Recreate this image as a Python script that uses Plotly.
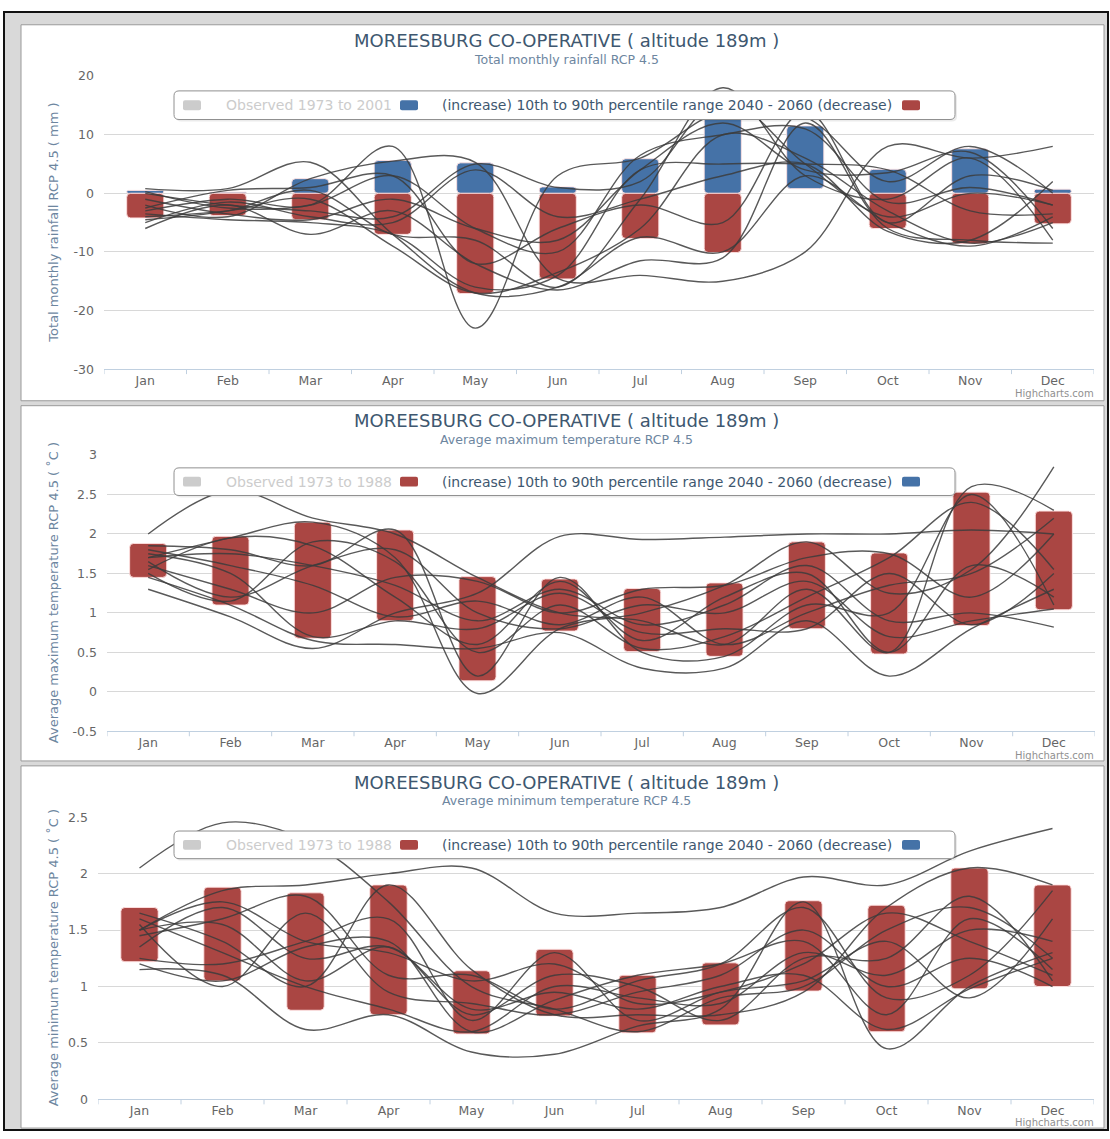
import plotly.graph_objects as go

# ---------------- data ----------------
months = ["Jan", "Feb", "Mar", "Apr", "May", "Jun", "Jul", "Aug", "Sep", "Oct", "Nov", "Dec"]

station_title = "MOREESBURG CO-OPERATIVE ( altitude 189m )"
rain_subtitle = "Total monthly rainfall RCP 4.5"
tmax_subtitle = "Average maximum temperature RCP 4.5"
tmin_subtitle = "Average minimum temperature RCP 4.5"
rain_axis_title = "Total monthly rainfall RCP 4.5 ( mm )"
tmax_axis_title = "Average maximum temperature RCP 4.5 ( ˚C )"
tmin_axis_title = "Average minimum temperature RCP 4.5 ( ˚C )"
rain_observed_label = "Observed 1973 to 2001"
temp_observed_label = "Observed 1973 to 1988"
range_label = "(increase) 10th to 90th percentile range 2040 - 2060 (decrease)"
credit_text = "Highcharts.com"

rain_ticks = [-30, -20, -10, 0, 10, 20]
rain_ticktext = ["-30", "-20", "-10", "0", "10", "20"]
tmax_ticks = [-0.5, 0, 0.5, 1, 1.5, 2, 2.5, 3]
tmax_ticktext = ["-0.5", "0", "0.5", "1", "1.5", "2", "2.5", "3"]
tmin_ticks = [0, 0.5, 1, 1.5, 2, 2.5]
tmin_ticktext = ["0", "0.5", "1", "1.5", "2", "2.5"]

# rainfall: increase (blue) and decrease (red) ranges
rain_inc_low = [0, 0, 0, 0, 0, 0, 0, 0, 0.8, 0, 0, 0]
rain_inc_high = [0.5, 0.2, 2.5, 5.6, 5.2, 1.1, 5.9, 14.5, 11.5, 4.1, 7.6, 0.7]
rain_dec_low = [-4.2, -3.8, -4.5, -7.0, -17.1, -14.6, -7.7, -10.1, None, -6.0, -8.6, -5.2]
rain_dec_high = [0, 0, 0, 0, 0, 0, 0, 0, None, 0, 0, 0]

# temperature ranges (all increases)
tmax_low = [1.45, 1.10, 0.68, 0.90, 0.14, 0.77, 0.51, 0.45, 0.80, 0.48, 0.84, 1.04]
tmax_high = [1.88, 1.97, 2.15, 2.05, 1.46, 1.43, 1.31, 1.38, 1.90, 1.76, 2.53, 2.29]
tmin_low = [1.22, 1.05, 0.79, 0.75, 0.58, 0.74, 0.59, 0.66, 0.96, 0.60, 0.98, 1.00]
tmin_high = [1.70, 1.88, 1.83, 1.90, 1.14, 1.33, 1.10, 1.21, 1.76, 1.72, 2.05, 1.90]

# individual model projections (change relative to observed)
rain_models = [
    [-6.0, -2.0, -7.0, -3.0, -12.0, -16.5, -11.5, -11.0, 12.0, -6.0, -8.0, -8.5],
    [0.8, 0.8, 5.3, -7.0, -17.0, -16.0, -7.5, -10.0, 3.0, -5.0, -9.0, -4.0],
    [-3.0, -1.0, -2.0, 8.0, -23.0, 3.0, 6.0, 14.0, 13.0, 2.0, 8.0, 0.0],
    [-2.0, -4.0, 2.5, 5.5, 5.3, -14.5, -14.0, -15.0, -10.0, 8.0, 6.0, 8.0],
    [-4.0, -3.0, -1.0, -9.0, -17.0, -13.5, -6.0, 10.0, 6.0, -3.0, -8.5, -5.0],
    [0.0, -2.0, -3.0, -4.0, 5.0, 1.0, 2.0, 16.0, 5.0, -4.0, 0.0, -2.0],
    [-1.0, -3.5, -4.5, -1.0, -6.0, -8.0, 4.0, 12.0, 4.0, 3.5, 7.0, -6.0],
    [-3.5, -4.5, -5.0, -7.0, -16.0, -14.0, 4.0, 5.0, 5.0, 4.0, -3.0, -3.5],
    [-2.5, 0.5, 1.0, 3.0, -12.0, -6.0, -2.0, -5.0, 14.0, -5.0, 3.0, 0.5],
    [-5.0, -1.5, -4.0, -5.0, 4.0, -4.0, -1.0, 3.0, 5.0, -6.5, -8.0, 2.0],
    [-4.5, -3.0, 0.5, -7.0, -8.0, -16.0, -1.0, 18.0, 3.0, -1.0, 6.0, -8.0],
    [0.3, -2.5, -2.0, 3.0, -6.0, -10.0, 6.5, 10.0, 11.0, -1.5, 1.0, -2.0],
]
tmax_models = [
    [2.0, 2.55, 2.2, 2.0, 1.45, 1.0, 0.9, 0.6, 1.3, 0.5, 2.6, 2.3],
    [1.3, 0.95, 0.55, 1.0, 1.25, 1.97, 1.93, 1.96, 2.0, 2.0, 2.05, 2.0],
    [1.7, 1.95, 2.15, 1.7, -0.02, 0.8, 1.0, 1.35, 1.9, 1.25, 1.55, 2.85],
    [1.45, 1.1, 0.65, 0.6, 0.55, 0.75, 0.3, 0.3, 0.9, 0.2, 0.8, 1.3],
    [1.85, 1.8, 1.6, 2.05, 0.2, 1.45, 0.5, 0.45, 1.1, 1.0, 2.5, 1.1],
    [1.6, 1.3, 1.0, 1.45, 1.4, 1.0, 1.3, 1.35, 1.7, 1.75, 1.2, 2.0],
    [1.75, 1.5, 0.7, 0.9, 0.8, 1.25, 0.75, 0.8, 0.8, 1.5, 0.85, 1.5],
    [1.65, 1.2, 1.6, 1.8, 1.0, 0.8, 1.1, 1.0, 1.4, 0.7, 0.9, 1.05],
    [1.55, 1.95, 1.85, 1.2, 0.6, 1.4, 0.65, 1.2, 1.5, 0.5, 1.6, 1.2],
    [1.8, 1.6, 1.35, 0.95, 1.15, 0.85, 1.2, 0.6, 1.0, 1.35, 1.5, 2.2],
    [1.5, 1.15, 1.9, 1.65, 0.5, 1.1, 0.55, 0.7, 1.2, 1.7, 2.4, 1.55],
    [1.7, 1.75, 1.6, 1.35, 0.9, 1.3, 0.85, 1.1, 1.6, 0.9, 1.0, 0.82],
]
tmin_models = [
    [2.05, 2.45, 2.3, 1.75, 1.0, 0.8, 0.6, 0.9, 1.0, 1.5, 1.7, 1.25],
    [1.5, 1.85, 1.9, 2.0, 2.05, 1.65, 1.65, 1.7, 1.97, 1.9, 2.2, 2.4],
    [1.15, 1.1, 0.62, 0.75, 0.42, 0.4, 0.65, 0.8, 1.75, 0.45, 1.0, 1.3],
    [1.65, 1.4, 1.0, 1.9, 1.15, 0.75, 0.75, 0.75, 0.95, 1.7, 2.05, 1.9],
    [1.2, 1.05, 1.35, 1.4, 0.6, 0.88, 1.1, 1.2, 1.4, 0.75, 1.6, 1.15],
    [1.5, 1.55, 1.05, 1.35, 0.75, 1.1, 1.0, 0.7, 1.25, 1.25, 1.8, 1.05],
    [1.35, 1.7, 1.25, 1.35, 0.8, 0.95, 0.8, 1.0, 1.1, 0.62, 0.98, 1.25],
    [1.55, 1.0, 1.65, 0.95, 0.85, 0.75, 0.95, 1.1, 1.5, 1.0, 1.25, 1.0],
    [1.25, 1.2, 1.4, 1.6, 0.7, 1.3, 0.7, 0.95, 1.05, 1.4, 0.9, 1.6],
    [1.6, 1.3, 1.0, 0.8, 0.6, 1.0, 0.9, 0.85, 1.3, 1.1, 1.5, 1.4],
    [1.45, 1.6, 1.8, 1.1, 1.1, 0.8, 1.05, 1.2, 1.7, 0.9, 1.1, 1.85],
    [1.5, 1.75, 1.4, 1.3, 1.05, 1.2, 0.85, 0.95, 1.2, 1.65, 1.4, 1.1],
]

# ---------------- styling / layout ----------------
W, H = 1110, 1139
FONT = "DejaVu Sans, Verdana, sans-serif"
BLUE = "#4572A7"
RED = "#AA4643"
LINE_COLOR = "rgba(60,60,60,0.85)"
TITLE_COLOR = "#3E576F"
SUB_COLOR = "#6D869F"


def PX(p):
    return p / W


def PY(p):
    return 1 - p / H


def rr_path(x0, y0, x1, y1, r):
    return (f"M {PX(x0 + r)},{PY(y0)} L {PX(x1 - r)},{PY(y0)} "
            f"Q {PX(x1)},{PY(y0)} {PX(x1)},{PY(y0 + r)} "
            f"L {PX(x1)},{PY(y1 - r)} Q {PX(x1)},{PY(y1)} {PX(x1 - r)},{PY(y1)} "
            f"L {PX(x0 + r)},{PY(y1)} Q {PX(x0)},{PY(y1)} {PX(x0)},{PY(y1 - r)} "
            f"L {PX(x0)},{PY(y0 + r)} Q {PX(x0)},{PY(y0)} {PX(x0 + r)},{PY(y0)} Z")


panels = [
    dict(box=(21, 17, 1104, 398), plot=(104, 1094, 69, 366), title_y=33, sub_y=52,
         legend=(174, 84, 955, 113), credit_y=391, ytitle_x=54,
         subtitle=rain_subtitle, ytitle=rain_axis_title, obs=rain_observed_label,
         sq2=BLUE, sq3=RED, yrange=[-30, 20], ticks=rain_ticks, ticktext=rain_ticktext,
         models=rain_models),
    dict(box=(21, 403, 1104, 763), plot=(107, 1095, 453, 733), title_y=418, sub_y=437,
         legend=(174, 466, 955, 494), credit_y=757, ytitle_x=53,
         subtitle=tmax_subtitle, ytitle=tmax_axis_title, obs=temp_observed_label,
         sq2=RED, sq3=BLUE, yrange=[-0.5, 3], ticks=tmax_ticks, ticktext=tmax_ticktext,
         models=tmax_models),
    dict(box=(21, 768, 1104, 1135), plot=(98, 1094, 820, 1106), title_y=785, sub_y=803,
         legend=(174, 834, 955, 862), credit_y=1129, ytitle_x=53,
         subtitle=tmin_subtitle, ytitle=tmin_axis_title, obs=temp_observed_label,
         sq2=RED, sq3=BLUE, yrange=[0, 2.5], ticks=tmin_ticks, ticktext=tmin_ticktext,
         models=tmin_models),
]

xs = list(range(len(months)))
fig = go.Figure()

for i, p in enumerate(panels):
    ax = "" if i == 0 else str(i + 1)
    xa, ya = "x" + ax, "y" + ax
    # model lines (behind bars)
    for m in p["models"]:
        fig.add_trace(go.Scatter(
            x=xs, y=m, mode="lines", xaxis=xa, yaxis=ya, hoverinfo="skip",
            showlegend=False,
            line=dict(shape="spline", smoothing=1, color=LINE_COLOR, width=1.4)))

bar_common = dict(width=0.45, showlegend=False, hoverinfo="skip")
mk_line = dict(color="rgba(255,225,225,0.9)", width=1)

# rainfall bars
fig.add_trace(go.Bar(x=xs, y=[h - l for h, l in zip(rain_inc_high, rain_inc_low)],
                     base=rain_inc_low, xaxis="x", yaxis="y",
                     marker=dict(color=BLUE, line=mk_line, cornerradius=4), **bar_common))
fig.add_trace(go.Bar(x=xs, y=[(l - h) if l is not None else None for h, l in zip(rain_dec_high, rain_dec_low)],
                     base=[h if h is not None else 0 for h in rain_dec_high], xaxis="x", yaxis="y",
                     marker=dict(color=RED, line=mk_line, cornerradius=4), **bar_common))
# temperature bars
fig.add_trace(go.Bar(x=xs, y=[h - l for h, l in zip(tmax_high, tmax_low)], base=tmax_low,
                     xaxis="x2", yaxis="y2",
                     marker=dict(color=RED, line=mk_line, cornerradius=4), **bar_common))
fig.add_trace(go.Bar(x=xs, y=[h - l for h, l in zip(tmin_high, tmin_low)], base=tmin_low,
                     xaxis="x3", yaxis="y3",
                     marker=dict(color=RED, line=mk_line, cornerradius=4), **bar_common))

shapes = []
annotations = []

# outer frame
shapes.append(dict(type="rect", xref="paper", yref="paper", x0=PX(4), x1=PX(1108), y0=PY(4), y1=PY(1137),
                   fillcolor="#d9d9d9", line=dict(color="#111111", width=2), layer="below"))

layout_axes = {}
for i, p in enumerate(panels):
    ax = "" if i == 0 else str(i + 1)
    bx0, by0, bx1, by1 = p["box"]
    shapes.append(dict(type="rect", xref="paper", yref="paper", x0=PX(bx0), x1=PX(bx1),
                       y0=PY(by0), y1=PY(by1), fillcolor="white",
                       line=dict(color="#9a9a9a", width=1), layer="below"))
    px0, px1, py0, py1 = p["plot"]
    layout_axes["xaxis" + ax] = dict(
        domain=[PX(px0), PX(px1)], anchor="y" + ax, range=[-0.5, 11.5],
        tickmode="array", tickvals=xs, ticktext=months, ticks="",
        showgrid=False, zeroline=False, showline=True, linecolor="#C0D0E0", linewidth=1,
        tickfont=dict(family=FONT, size=12.5, color="#666666"), ticklabelstandoff=0,
        fixedrange=True)
    layout_axes["yaxis" + ax] = dict(
        domain=[PY(py1), PY(py0)], anchor="x" + ax, range=p["yrange"],
        tickmode="array", tickvals=p["ticks"], ticktext=p["ticktext"], ticks="",
        showgrid=True, gridcolor="#d8d8d8", gridwidth=1, zeroline=False, showline=False,
        tickfont=dict(family=FONT, size=12.5, color="#666666"), ticklabelstandoff=9,
        fixedrange=True)
    # category boundary tick marks below the x axis line
    for k in range(len(months) + 1):
        shapes.append(dict(type="line", xref="x" + ax, yref="paper", x0=k - 0.5, x1=k - 0.5,
                           y0=PY(py1), y1=PY(py1 + 5), line=dict(color="#C0D0E0", width=1),
                           layer="above"))

    # titles
    annotations.append(dict(text=station_title, x=PX(566), y=PY(p["title_y"]), xref="paper", yref="paper",
                            showarrow=False, xanchor="center", yanchor="middle",
                            font=dict(family=FONT, size=18, color=TITLE_COLOR)))
    annotations.append(dict(text=p["subtitle"], x=PX(566), y=PY(p["sub_y"]), xref="paper", yref="paper",
                            showarrow=False, xanchor="center", yanchor="middle",
                            font=dict(family=FONT, size=12.5, color=SUB_COLOR)))
    # y-axis title
    annotations.append(dict(text=p["ytitle"], x=PX(p["ytitle_x"]), y=PY((py0 + py1) / 2),
                            xref="paper", yref="paper", showarrow=False, textangle=-90,
                            xanchor="center", yanchor="middle",
                            font=dict(family=FONT, size=13, color=SUB_COLOR)))
    # credit
    annotations.append(dict(text=credit_text, x=PX(1096), y=PY(p["credit_y"]), xref="paper", yref="paper",
                            showarrow=False, xanchor="right", yanchor="middle",
                            font=dict(family=FONT, size=10, color="#909090")))
    # legend box
    lx0, ly0, lx1, ly1 = p["legend"]
    shapes.append(dict(type="path", xref="paper", yref="paper",
                       path=rr_path(lx0 + 2, ly0 + 2, lx1 + 2, ly1 + 2, 5),
                       fillcolor="rgba(0,0,0,0.08)", line=dict(width=0), layer="above"))
    shapes.append(dict(type="path", xref="paper", yref="paper", path=rr_path(lx0, ly0, lx1, ly1, 5),
                       fillcolor="white", line=dict(color="#909090", width=1), layer="above"))
    cy = (ly0 + ly1) / 2
    for sx, col in ((183, "#cccccc"), (400, p["sq2"]), (902, p["sq3"])):
        shapes.append(dict(type="path", xref="paper", yref="paper",
                           path=rr_path(sx, cy - 5, sx + 18, cy + 5, 2),
                           fillcolor=col, line=dict(width=0), layer="above"))
    annotations.append(dict(text=p["obs"], x=PX(224), y=PY(cy), xref="paper", yref="paper",
                            showarrow=False, xanchor="left", yanchor="middle",
                            font=dict(family=FONT, size=14, color="#cccccc")))
    annotations.append(dict(text=range_label, x=PX(440), y=PY(cy), xref="paper", yref="paper",
                            showarrow=False, xanchor="left", yanchor="middle",
                            font=dict(family=FONT, size=14, color=TITLE_COLOR)))

fig.update_layout(
    width=W, height=H, margin=dict(l=0, r=0, t=0, b=0),
    paper_bgcolor="white", plot_bgcolor="white",
    barmode="overlay", showlegend=False,
    shapes=shapes, annotations=annotations,
    font=dict(family=FONT),
    **layout_axes,
)

fig.write_html("out.html")
